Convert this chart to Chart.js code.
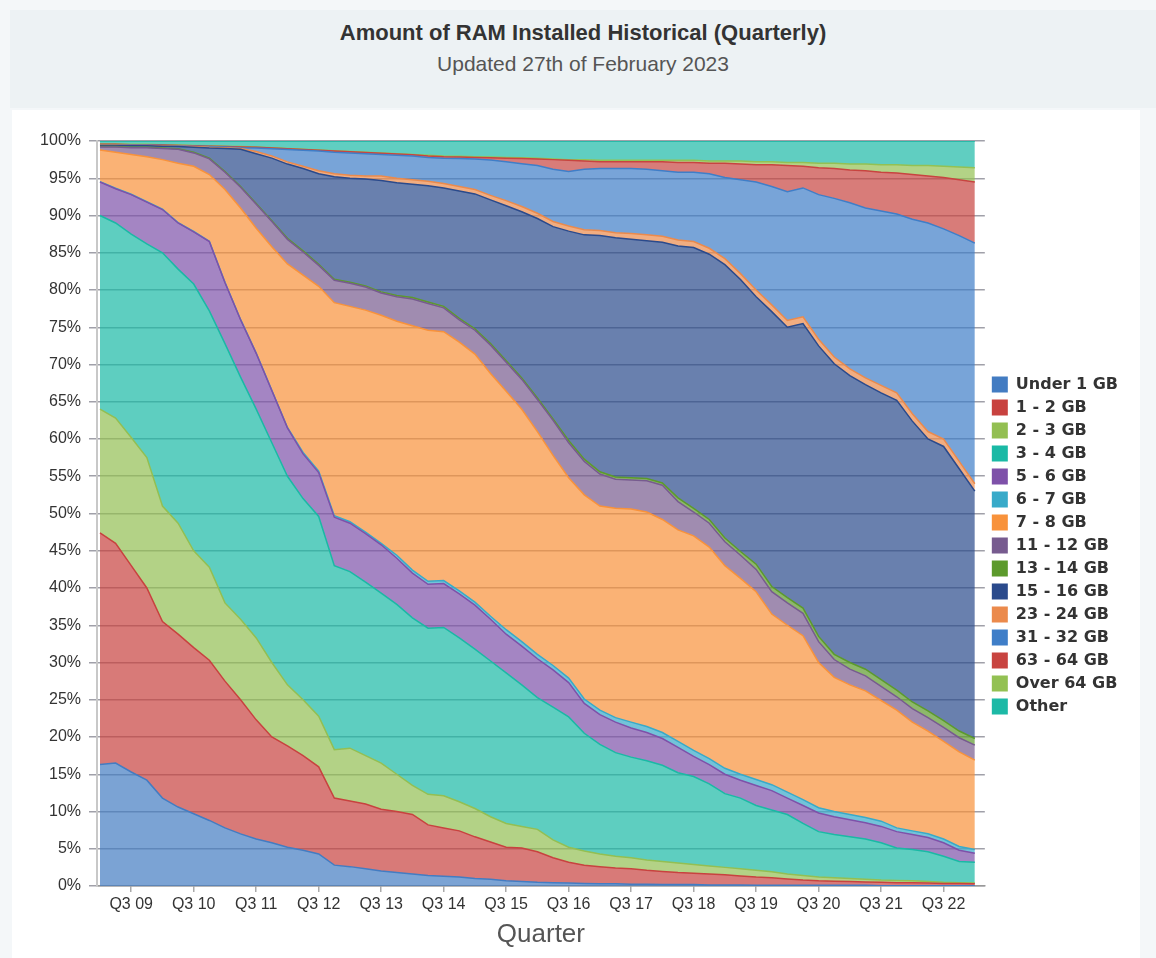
<!DOCTYPE html>
<html>
<head>
<meta charset="utf-8">
<title>Amount of RAM Installed Historical (Quarterly)</title>
<script src="https://cdn.jsdelivr.net/npm/chart.js@4.4.1/dist/chart.umd.min.js"></script>
<style>
  html, body { margin: 0; padding: 0; }
  body {
    width: 1156px; height: 958px; position: relative; overflow: hidden;
    background: #f4f7f9; font-family: 'Liberation Sans', Arial, sans-serif;
  }
  #header {
    position: absolute; left: 10px; top: 10px; width: 1146px; height: 98px;
    background: #edf2f4; text-align: center;
  }
  #header h1 {
    position: absolute; left: 0; right: 0; top: 10px; margin: 0;
    font-size: 22px; font-weight: bold; color: #333; line-height: 26px;
  }
  #header p {
    position: absolute; left: 0; right: 0; top: 42px; margin: 0;
    font-size: 21px; color: #555; line-height: 24px;
  }
  #panel {
    position: absolute; left: 12px; top: 110px; width: 1128px; height: 848px;
    background: #fff;
  }
</style>
</head>
<body>
<div id="header">
  <h1>Amount of RAM Installed Historical (Quarterly)</h1>
  <p>Updated 27th of February 2023</p>
</div>
<div id="panel"><canvas id="chart" width="1128" height="848"></canvas></div>
<script>
// Quarters, Q1 09 .. Q1 23
const quarters = [
  'Q1 09', 'Q2 09', 'Q3 09', 'Q4 09', 'Q1 10', 'Q2 10', 'Q3 10', 'Q4 10',
  'Q1 11', 'Q2 11', 'Q3 11', 'Q4 11', 'Q1 12', 'Q2 12', 'Q3 12', 'Q4 12',
  'Q1 13', 'Q2 13', 'Q3 13', 'Q4 13', 'Q1 14', 'Q2 14', 'Q3 14', 'Q4 14',
  'Q1 15', 'Q2 15', 'Q3 15', 'Q4 15', 'Q1 16', 'Q2 16', 'Q3 16', 'Q4 16',
  'Q1 17', 'Q2 17', 'Q3 17', 'Q4 17', 'Q1 18', 'Q2 18', 'Q3 18', 'Q4 18',
  'Q1 19', 'Q2 19', 'Q3 19', 'Q4 19', 'Q1 20', 'Q2 20', 'Q3 20', 'Q4 20',
  'Q1 21', 'Q2 21', 'Q3 21', 'Q4 21', 'Q1 22', 'Q2 22', 'Q3 22', 'Q4 22',
  'Q1 23'
];
// only the Q3 quarters carry a label
const labelledQuarters = [2, 6, 10, 14, 18, 22, 26, 30, 34, 38, 42, 46, 50, 54];

// share of machines, percent
const under1 = [16.3, 16.5, 15.3, 14.2, 11.8, 10.6, 9.7, 8.8, 7.8, 7.0, 6.3, 5.8, 5.2, 4.8, 4.3, 2.8, 2.6, 2.3, 2.0, 1.8,
  1.6, 1.4, 1.3, 1.2, 1.0, 0.9, 0.7, 0.6, 0.5, 0.45, 0.4, 0.35, 0.3, 0.3, 0.25, 0.25, 0.2, 0.2, 0.2, 0.15,
  0.15, 0.15, 0.1, 0.1, 0.1, 0.1, 0.1, 0.1, 0.1, 0.1, 0.05, 0.05, 0.05, 0.05, 0.05, 0.05, 0.05];
const gb1to2 = [31.1, 29.5, 27.7, 25.8, 23.7, 23.2, 22.3, 21.5, 19.7, 18.0, 16.0, 14.2, 13.6, 12.7, 11.7, 9.0, 8.8, 8.7, 8.3, 8.2,
  8.0, 6.8, 6.5, 6.2, 5.6, 5.0, 4.5, 4.5, 4.1, 3.35, 2.8, 2.45, 2.3, 2.1, 2.05, 1.85, 1.75, 1.6, 1.5, 1.45,
  1.35, 1.2, 1.1, 1.0, 0.85, 0.7, 0.6, 0.55, 0.5, 0.45, 0.45, 0.4, 0.37, 0.35, 0.3, 0.28, 0.25];
const gb2to3 = [16.6, 16.8, 17.2, 17.5, 15.5, 14.9, 13.0, 12.5, 10.5, 10.8, 11.0, 10.0, 8.2, 7.5, 6.8, 6.5, 7.1, 6.5, 6.2, 5.0,
  3.9, 4.1, 4.3, 3.9, 3.8, 3.4, 3.2, 2.9, 3.0, 2.4, 2.0, 1.9, 1.7, 1.6, 1.5, 1.4, 1.35, 1.3, 1.2, 1.1,
  1.0, 0.95, 0.9, 0.8, 0.65, 0.6, 0.5, 0.45, 0.4, 0.35, 0.3, 0.3, 0.28, 0.2, 0.15, 0.12, 0.1];
const gb3to4 = [26.0, 26.2, 27.3, 28.7, 34.0, 34.1, 35.8, 34.4, 34.8, 32.5, 30.7, 29.5, 28.0, 27.0, 26.8, 24.7, 23.7, 23.3, 22.8, 22.8,
  22.5, 22.3, 22.6, 22.0, 21.4, 20.9, 20.2, 19.0, 17.7, 17.8, 17.5, 15.8, 14.7, 13.9, 13.5, 13.3, 12.9, 12.1, 11.8, 11.0,
  9.9, 9.5, 8.7, 8.3, 8.0, 7.0, 6.1, 5.8, 5.6, 5.4, 5.0, 4.35, 4.2, 4.0, 3.5, 2.85, 2.8];
const gb5to6 = [4.5, 4.6, 5.3, 5.6, 5.8, 6.2, 7.0, 9.3, 8.2, 7.7, 7.5, 7.0, 6.5, 6.0, 5.9, 6.5, 6.5, 6.5, 6.5, 6.2,
  6.0, 5.9, 5.9, 5.9, 5.9, 5.6, 5.2, 5.2, 5.2, 5.0, 4.6, 4.0, 4.0, 4.1, 3.9, 3.8, 3.6, 3.4, 2.7, 2.6,
  2.6, 2.4, 2.7, 2.6, 2.2, 2.4, 2.5, 2.4, 2.3, 2.2, 2.2, 2.2, 2.0, 1.9, 1.8, 1.5, 1.2];
const gb6to7 = [0.05, 0.05, 0.05, 0.05, 0.05, 0.05, 0.05, 0.05, 0.05, 0.05, 0.05, 0.05, 0.05, 0.2, 0.2, 0.2, 0.2, 0.2, 0.2, 0.4,
  0.4, 0.4, 0.4, 0.4, 0.4, 0.4, 0.6, 0.6, 0.6, 0.6, 0.6, 0.6, 0.6, 0.6, 0.8, 0.8, 0.8, 0.8, 0.8, 0.8,
  0.8, 0.8, 0.8, 0.8, 0.8, 0.8, 0.7, 0.7, 0.7, 0.7, 0.7, 0.5, 0.5, 0.5, 0.5, 0.5, 0.5];
const gb7to8 = [4.25, 4.85, 5.35, 6.05, 6.65, 7.95, 8.75, 8.95, 12.45, 14.95, 16.75, 19.25, 21.95, 23.8, 24.8, 28.6, 28.9, 29.8, 30.6, 31.4,
  32.8, 33.7, 33.4, 33.4, 33.3, 32.6, 32.0, 31.2, 29.9, 28.2, 26.9, 27.4, 27.4, 28.1, 28.6, 28.8, 28.6, 28.4, 28.8, 28.4,
  27.2, 26.3, 25.2, 22.9, 22.4, 22.0, 19.5, 18.0, 17.4, 17.0, 16.2, 15.8, 14.6, 13.8, 13.1, 12.7, 12.0];
const gb11to12 = [0.4, 0.7, 0.9, 1.2, 1.5, 1.9, 1.8, 2.1, 2.3, 2.8, 3.2, 3.4, 3.3, 3.1, 2.8, 3.0, 3.1, 3.1, 3.0, 3.3,
  3.6, 3.6, 3.2, 3.0, 3.2, 3.8, 3.9, 4.0, 4.3, 4.7, 4.7, 4.5, 4.3, 3.9, 3.9, 4.2, 4.6, 3.8, 3.2, 3.2,
  3.2, 3.1, 3.0, 3.0, 3.0, 3.0, 2.8, 2.4, 2.1, 2.0, 1.9, 1.8, 1.8, 1.8, 1.9, 1.9, 2.0];
const gb13to14 = [0.05, 0.05, 0.05, 0.05, 0.05, 0.05, 0.1, 0.1, 0.1, 0.1, 0.1, 0.1, 0.15, 0.15, 0.15, 0.15, 0.15, 0.15, 0.15, 0.15,
  0.2, 0.2, 0.2, 0.2, 0.2, 0.2, 0.2, 0.2, 0.2, 0.2, 0.3, 0.3, 0.3, 0.3, 0.3, 0.3, 0.3, 0.5, 0.5, 0.5,
  0.5, 0.5, 0.7, 0.7, 0.7, 0.7, 0.7, 0.7, 0.9, 0.9, 0.9, 0.9, 0.9, 0.9, 0.9, 0.9, 0.9];
const gb15to16 = [0.15, 0.15, 0.2, 0.2, 0.25, 0.3, 0.65, 1.35, 3.1, 5.0, 6.7, 8.4, 9.95, 11.05, 12.15, 13.75, 13.95, 14.35, 14.95, 15.15,
  15.2, 15.6, 15.9, 17.1, 18.1, 19.3, 20.8, 22.3, 24.1, 25.8, 28.1, 30.1, 31.7, 32.1, 32.0, 31.9, 32.3, 33.8, 35.0, 35.6,
  36.7, 36.5, 35.9, 36.9, 36.3, 38.2, 39.0, 39.0, 38.5, 38.2, 38.5, 38.9, 37.7, 36.5, 36.8, 35.2, 33.2];
const gb23to24 = [0.05, 0.05, 0.05, 0.05, 0.05, 0.05, 0.1, 0.1, 0.1, 0.1, 0.3, 0.3, 0.3, 0.3, 0.4, 0.4, 0.4, 0.4, 0.6, 0.6,
  0.6, 0.6, 0.6, 0.6, 0.6, 0.6, 0.7, 0.7, 0.7, 0.7, 0.7, 0.7, 0.7, 0.7, 0.8, 0.8, 0.8, 0.8, 0.8, 0.8,
  0.8, 0.8, 0.9, 0.9, 0.9, 0.9, 0.9, 0.9, 0.9, 0.9, 1.0, 1.0, 1.0, 1.0, 1.0, 1.0, 1.0];
const gb31to32 = [0.05, 0.05, 0.05, 0.05, 0.05, 0.05, 0.05, 0.1, 0.1, 0.1, 0.45, 0.95, 1.65, 2.15, 2.65, 2.9, 3.0, 3.0, 2.9, 3.1,
  3.2, 3.2, 3.4, 3.75, 4.1, 4.75, 5.2, 5.75, 6.4, 7.0, 7.3, 8.1, 8.3, 8.6, 8.7, 8.8, 8.8, 9.1, 9.3, 10.0,
  10.9, 12.6, 14.5, 15.9, 17.3, 17.3, 19.4, 21.3, 22.3, 22.8, 23.4, 24.0, 26.1, 28.0, 28.2, 30.3, 32.3];
const gb63to64 = [0.05, 0.05, 0.05, 0.05, 0.05, 0.05, 0.05, 0.05, 0.05, 0.1, 0.1, 0.1, 0.1, 0.1, 0.1, 0.15, 0.15, 0.15, 0.15, 0.15,
  0.15, 0.2, 0.2, 0.2, 0.2, 0.3, 0.5, 0.7, 0.9, 1.3, 1.5, 1.1, 0.9, 0.9, 0.9, 1.0, 1.2, 1.3, 1.3, 1.4,
  1.9, 2.1, 2.3, 2.9, 3.5, 2.9, 3.6, 4.0, 4.4, 5.0, 5.2, 5.5, 6.0, 6.3, 6.9, 7.5, 8.2];
const over64 = [0.05, 0.05, 0.05, 0.05, 0.05, 0.05, 0.05, 0.05, 0.05, 0.05, 0.05, 0.05, 0.05, 0.05, 0.05, 0.05, 0.05, 0.05, 0.05, 0.05,
  0.05, 0.1, 0.1, 0.1, 0.1, 0.1, 0.1, 0.1, 0.1, 0.1, 0.1, 0.2, 0.2, 0.2, 0.2, 0.2, 0.2, 0.3, 0.3, 0.3,
  0.3, 0.4, 0.4, 0.4, 0.4, 0.5, 0.6, 0.7, 0.8, 0.9, 1.0, 1.1, 1.2, 1.4, 1.5, 1.7, 1.9];
const other = [0.4, 0.4, 0.45, 0.45, 0.5, 0.55, 0.6, 0.65, 0.7, 0.75, 0.8, 0.9, 1.0, 1.1, 1.2, 1.3, 1.4, 1.5, 1.6, 1.7,
  1.8, 1.9, 2.0, 2.05, 2.1, 2.15, 2.2, 2.25, 2.3, 2.4, 2.5, 2.5, 2.6, 2.6, 2.6, 2.6, 2.6, 2.6, 2.6, 2.7,
  2.7, 2.7, 2.8, 2.8, 2.9, 2.9, 3.0, 3.0, 3.1, 3.1, 3.2, 3.2, 3.3, 3.3, 3.4, 3.5, 3.6];

// bottom to top
const series = [
  ['Under 1 GB', under1, '#437cc2'],
  ['1 - 2 GB', gb1to2, '#c8423f'],
  ['2 - 3 GB', gb2to3, '#93bf52'],
  ['3 - 4 GB', gb3to4, '#1ab9a5'],
  ['5 - 6 GB', gb5to6, '#7e51a9'],
  ['6 - 7 GB', gb6to7, '#38aac9'],
  ['7 - 8 GB', gb7to8, '#f8923b'],
  ['11 - 12 GB', gb11to12, '#775b8f'],
  ['13 - 14 GB', gb13to14, '#5c9a2c'],
  ['15 - 16 GB', gb15to16, '#2a4a8c'],
  ['23 - 24 GB', gb23to24, '#eb8a4c'],
  ['31 - 32 GB', gb31to32, '#3f7ec8'],
  ['63 - 64 GB', gb63to64, '#c84440'],
  ['Over 64 GB', over64, '#93c153'],
  ['Other', other, '#1db9a6']
];

function withAlpha(hex, a) {
  const n = parseInt(hex.slice(1), 16);
  return `rgba(${n >> 16}, ${(n >> 8) & 255}, ${n & 255}, ${a})`;
}

Chart.defaults.font.family = "'Liberation Sans', Arial, sans-serif";
Chart.defaults.color = '#333';

new Chart(document.getElementById('chart'), {
  type: 'line',
  data: {
    datasets: series.map(([label, values, color], k) => ({
      label,
      data: values.map((v, i) => ({ x: i, y: v })),
      borderColor: color,
      backgroundColor: withAlpha(color, 0.7),
      borderWidth: 1.5,
      pointRadius: 0,
      tension: 0,
      fill: k === 0 ? 'origin' : '-1'
    }))
  },
  options: {
    responsive: false,
    animation: false,
    events: [],
    layout: { padding: { top: 31, right: 12, bottom: 8, left: 0 } },
    plugins: {
      tooltip: { enabled: false },
      legend: {
        position: 'right',
        labels: {
          boxWidth: 16,
          boxHeight: 16,
          padding: 7,
          color: '#333',
          font: { family: "'DejaVu Sans', Verdana, sans-serif", size: 16, weight: 'bold' },
          generateLabels: chart => Chart.defaults.plugins.legend.labels.generateLabels(chart)
            .map(item => ({ ...item, fillStyle: item.strokeStyle, lineWidth: 0 }))
        }
      }
    },
    scales: {
      x: {
        type: 'linear',
        min: -0.19,
        max: 56.64,
        afterBuildTicks: axis => { axis.ticks = labelledQuarters.map(v => ({ value: v })); },
        afterFit: axis => { axis.height = 64; },
        ticks: {
          autoSkip: false,
          maxRotation: 0,
          padding: 3,
          font: { size: 16 },
          color: '#333',
          callback: v => quarters[v]
        },
        grid: { drawOnChartArea: false, tickLength: 6, color: '#aaa', lineWidth: 1.5 },
        border: { color: '#999', width: 1.5 },
        title: {
          display: true,
          text: 'Quarter',
          color: '#555',
          font: { size: 26 },
          padding: { top: 2, bottom: 0 }
        }
      },
      y: {
        stacked: true,
        min: 0,
        max: 100,
        z: 1,
        afterFit: axis => { axis.width = 85; },
        ticks: { stepSize: 5, padding: 8, font: { size: 16 }, color: '#333', callback: v => v + '%' },
        grid: { color: 'rgba(45, 45, 65, 0.45)', lineWidth: 1.5, tickLength: 8 },
        border: { color: '#c8c8c8', width: 2 }
      }
    }
  }
});
</script>
</body>
</html>
